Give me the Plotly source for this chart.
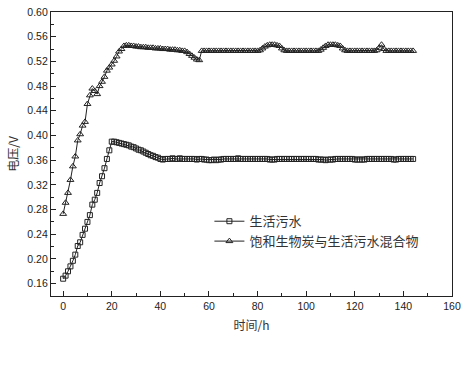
import plotly.graph_objects as go

# Time (h)
hours = [
    0, 1, 2, 3, 4, 5, 6, 7, 8, 9, 10, 11, 12, 13, 14, 15, 16, 17, 18, 19,
    20, 21, 22, 23, 24, 25, 26, 27, 28, 29, 30, 31, 32, 33, 34, 35, 36, 37, 38, 39,
    40, 41, 42, 43, 44, 45, 46, 47, 48, 49, 50, 51, 52, 53, 54, 55, 56, 57, 58, 59,
    60, 61, 62, 63, 64, 65, 66, 67, 68, 69, 70, 71, 72, 73, 74, 75, 76, 77, 78, 79,
    80, 81, 82, 83, 84, 85, 86, 87, 88, 89, 90, 91, 92, 93, 94, 95, 96, 97, 98, 99,
    100, 101, 102, 103, 104, 105, 106, 107, 108, 109, 110, 111, 112, 113, 114, 115, 116, 117, 118, 119,
    120, 121, 122, 123, 124, 125, 126, 127, 128, 129, 130, 131, 132, 133, 134, 135, 136, 137, 138, 139,
    140, 141, 142, 143, 144,
]

# 生活污水 (V)
sewage = [
    0.168, 0.173, 0.180, 0.188, 0.197, 0.207, 0.221, 0.227, 0.239, 0.249,
    0.260, 0.271, 0.288, 0.296, 0.307, 0.323, 0.334, 0.347, 0.362, 0.376, 0.390,
    0.390, 0.389, 0.388, 0.387, 0.386, 0.385, 0.384, 0.382, 0.381, 0.379, 0.377,
    0.376, 0.374, 0.372, 0.370, 0.368, 0.367, 0.365, 0.364, 0.362, 0.361, 0.362,
    0.362, 0.362, 0.363, 0.362, 0.362, 0.363, 0.362, 0.362, 0.362, 0.362,
    0.362, 0.362, 0.361, 0.362, 0.362, 0.361, 0.361, 0.360, 0.360, 0.361,
    0.360, 0.361, 0.361, 0.362, 0.362, 0.362, 0.362, 0.362, 0.362, 0.363,
    0.362, 0.362, 0.362, 0.362, 0.362, 0.362, 0.362, 0.362, 0.362, 0.362,
    0.362, 0.362, 0.361, 0.361, 0.361, 0.362, 0.362, 0.362, 0.362, 0.362,
    0.362, 0.362, 0.362, 0.362, 0.362, 0.362, 0.362, 0.362, 0.362, 0.362,
    0.362, 0.362, 0.361, 0.361, 0.361, 0.360, 0.361, 0.361, 0.361, 0.362,
    0.362, 0.362, 0.362, 0.362, 0.362, 0.362, 0.362, 0.361, 0.361, 0.361,
    0.361, 0.361, 0.362, 0.362, 0.362, 0.362, 0.362, 0.362, 0.362, 0.362,
    0.362, 0.362, 0.362, 0.361, 0.361, 0.362, 0.362, 0.362, 0.362, 0.362,
    0.362, 0.362,
]

# 饱和生物炭与生活污水混合物 (V)
mixture = [
    0.273, 0.291, 0.307, 0.328, 0.350, 0.366, 0.392, 0.402, 0.416, 0.422,
    0.451, 0.465, 0.476, 0.472, 0.467, 0.480, 0.487, 0.495, 0.505, 0.510,
    0.515, 0.521, 0.528, 0.536, 0.540, 0.545,
    0.546, 0.546, 0.545, 0.545, 0.544, 0.544, 0.543, 0.543, 0.543, 0.542,
    0.542, 0.542, 0.541, 0.541, 0.541, 0.540, 0.540, 0.540, 0.539, 0.539,
    0.539, 0.538, 0.538, 0.537, 0.537,
    0.535, 0.532, 0.529, 0.526, 0.523, 0.522,
    0.537, 0.537, 0.537, 0.537, 0.537, 0.537, 0.537, 0.537, 0.537, 0.537,
    0.537, 0.537, 0.537, 0.537, 0.537, 0.537, 0.537, 0.537, 0.537, 0.537,
    0.537, 0.537, 0.537, 0.537,
    0.538, 0.541, 0.544, 0.546, 0.547, 0.547, 0.547, 0.546, 0.545, 0.541,
    0.538, 0.537,
    0.537, 0.537, 0.537, 0.537, 0.537, 0.537, 0.537, 0.537, 0.537, 0.537,
    0.537, 0.537, 0.537,
    0.539, 0.542, 0.545, 0.547, 0.547, 0.547, 0.547, 0.546, 0.545, 0.541,
    0.538, 0.537, 0.537,
    0.537, 0.537, 0.537, 0.537, 0.537, 0.537, 0.537, 0.537, 0.537, 0.537,
    0.538, 0.542, 0.547, 0.540, 0.537,
    0.537, 0.537, 0.537, 0.537, 0.537, 0.537, 0.537, 0.537, 0.537, 0.537,
    0.537,
]

series_names = ["生活污水", "饱和生物炭与生活污水混合物"]

fig = go.Figure()
fig.add_trace(go.Scatter(
    x=hours, y=sewage, name=series_names[0], mode="lines+markers",
    line=dict(color="#222222", width=1),
    marker=dict(symbol="square-open", size=5, color="#222222", line=dict(width=1)),
))
fig.add_trace(go.Scatter(
    x=hours, y=mixture, name=series_names[1], mode="lines+markers",
    line=dict(color="#222222", width=1),
    marker=dict(symbol="triangle-up-open", size=6, color="#222222", line=dict(width=1)),
))

axis_common = dict(
    showline=True, linecolor="#222222", linewidth=1.3, mirror=True,
    ticks="inside", tickcolor="#222222", ticklen=5, tickwidth=1.3,
    showgrid=False, zeroline=False, automargin=False,
    tickfont=dict(family="Liberation Sans, Arial, sans-serif", size=10.5, color="#222222"),
)

fig.update_xaxes(
    range=[-5, 160], dtick=20, tick0=0,
    minor=dict(ticks="inside", dtick=10, ticklen=3, tickcolor="#222222", tickwidth=1.2),
    title=dict(text="时间/h", font=dict(family="Noto Sans CJK SC", size=12, color="#333333"), standoff=10),
    **axis_common,
)
fig.update_yaxes(
    range=[0.14, 0.60], dtick=0.04, tick0=0.16, tickformat=".2f",
    minor=dict(ticks="inside", dtick=0.02, ticklen=3, tickcolor="#222222", tickwidth=1.2),
    title=dict(text="电压/V", font=dict(family="Noto Sans CJK SC", size=12, color="#333333"), standoff=6),
    **axis_common,
)

fig.update_layout(
    width=474, height=369,
    margin=dict(l=51, r=22, t=12, b=73),
    plot_bgcolor="white", paper_bgcolor="white",
    showlegend=True,
    legend=dict(
        x=0.395, y=0.316, xanchor="left", yanchor="top",
        bgcolor="rgba(0,0,0,0)", borderwidth=0,
        font=dict(family="Noto Sans CJK SC", size=13, color="#333333"),
        itemwidth=30, tracegroupgap=0,
    ),
)

fig.write_html(
    "out.html",
    config={"displayModeBar": False},
    post_script="document.body.style.margin='0px';",
)
